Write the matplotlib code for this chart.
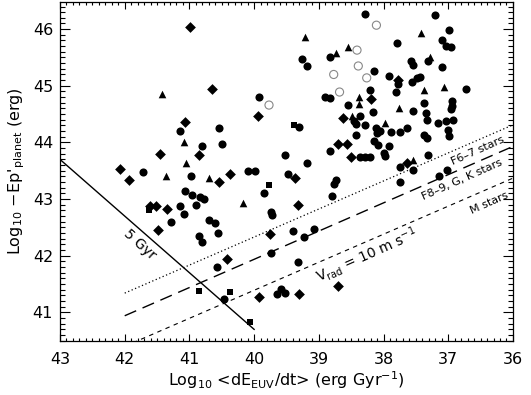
import matplotlib
matplotlib.use("Agg")
import matplotlib.pyplot as plt
from matplotlib.ticker import MultipleLocator

# ---- data (log10 dE_EUV/dt, log10 -Ep'_planet) ----
circ_x = [39.26, 39.18, 39.93, 41.14, 40.54, 39.30, 40.80, 40.50, 39.53, 39.19,
          41.71, 40.97, 40.10, 39.99, 39.47, 41.07, 40.96, 40.83, 40.78, 40.90,
          39.84, 41.15, 41.08, 41.28, 40.69, 40.60, 40.56, 40.85, 40.80, 39.74,
          39.72, 39.40, 39.23, 39.07, 40.57, 39.74, 39.32, 40.46, 39.59, 39.65,
          39.52, 38.29, 37.21, 36.99, 37.79, 37.10, 37.04, 36.96, 38.82, 38.15,
          37.58, 37.54, 37.32, 37.09, 37.91, 37.78, 37.56, 37.48, 37.43, 37.81,
          38.21, 36.72, 38.55, 38.16, 37.55, 37.38, 36.94, 36.94, 36.96, 37.35,
          37.33, 38.46, 38.36, 38.43, 38.29, 37.16, 37.03, 36.92, 38.12, 38.05,
          37.89, 37.74, 37.63, 38.42, 38.15, 38.09, 37.99, 37.97, 37.92, 37.37,
          37.33, 37.01, 36.99, 38.37, 38.29, 38.21, 37.32, 37.74, 37.54, 37.15,
          37.02, 37.74, 38.74, 38.77, 38.79, 38.91, 38.82, 38.10, 38.82]
circ_y = [45.47, 45.35, 44.80, 44.20, 44.26, 44.27, 43.93, 43.97, 43.77, 43.64,
          43.47, 43.41, 43.50, 43.50, 43.44, 43.15, 43.07, 43.04, 43.01, 42.90,
          43.10, 42.88, 42.73, 42.59, 42.63, 42.57, 42.41, 42.34, 42.25, 42.78,
          42.72, 42.44, 42.33, 42.48, 41.80, 42.05, 41.89, 41.24, 41.42, 41.32,
          41.35, 46.26, 46.25, 45.98, 45.75, 45.81, 45.71, 45.69, 45.51, 45.27,
          45.43, 45.36, 45.43, 45.34, 45.17, 45.03, 45.07, 45.13, 45.15, 44.89,
          44.93, 44.95, 44.66, 44.54, 44.56, 44.70, 44.73, 44.65, 44.59, 44.52,
          44.40, 44.37, 44.46, 44.33, 44.30, 44.34, 44.38, 44.40, 44.26, 44.21,
          44.19, 44.19, 44.25, 44.14, 44.03, 43.95, 43.81, 43.76, 43.93, 44.14,
          44.08, 44.22, 44.11, 43.75, 43.75, 43.75, 43.77, 43.57, 43.51, 43.40,
          43.51, 43.31, 43.33, 43.27, 43.05, 44.81, 44.78, 44.16, 43.85]

open_x = [39.77, 38.11, 38.41, 38.77, 38.39, 38.26, 38.68]
open_y = [44.66, 46.07, 45.63, 45.20, 45.35, 45.14, 44.89]

tri_x = [39.22, 41.42, 41.09, 41.06, 41.36, 40.69, 40.17, 37.42, 38.55, 38.74,
         37.28, 37.37, 37.06, 38.38, 38.38, 37.76, 38.48, 37.97, 37.54]
tri_y = [45.86, 44.86, 44.01, 43.64, 43.41, 43.37, 42.93, 45.94, 45.69, 45.58,
         45.50, 44.92, 44.98, 44.80, 44.67, 44.60, 44.47, 44.35, 43.69]

dia_x = [40.99, 40.65, 39.94, 41.07, 41.46, 40.85, 42.08, 40.37, 39.37, 41.94,
         40.55, 41.61, 41.52, 41.35, 41.49, 39.32, 39.75, 40.42, 39.92, 39.30,
         38.71, 37.78, 38.20, 38.63, 38.71, 38.56, 38.50, 37.64]
dia_y = [46.04, 44.95, 44.46, 44.36, 43.80, 43.78, 43.53, 43.44, 43.37, 43.34,
         43.31, 42.88, 42.88, 42.82, 42.45, 42.90, 42.38, 41.94, 41.27, 41.32,
         41.46, 45.10, 44.76, 44.43, 43.97, 43.97, 43.75, 43.63]

sq_x = [39.39, 39.77, 41.62, 40.85, 40.38, 40.07]
sq_y = [44.31, 43.24, 42.80, 41.38, 41.36, 40.83]

# reference lines
gyr5_x = [43.0, 40.0]
gyr5_y = [43.70, 40.70]
vrad_x = [42.0, 36.0]
f67_y = [41.34, 44.31]
fgk_y = [40.94, 43.93]
mst_y = [40.40, 43.37]

plt.rcParams['font.family'] = ['DejaVu Sans']
fig = plt.figure(figsize=(5.31, 3.95), dpi=100)
ax = fig.add_axes([0.113, 0.1375, 0.853, 0.8575])

ax.plot(gyr5_x, gyr5_y, color='black', lw=1.0)
ax.plot(vrad_x, f67_y, color='black', lw=0.9, linestyle=(0, (1, 2)))
ax.plot(vrad_x, fgk_y, color='black', lw=1.0, linestyle=(0, (9, 5)))
ax.plot(vrad_x, mst_y, color='black', lw=0.8, linestyle=(0, (4, 4)))

ax.scatter(circ_x, circ_y, s=34, marker='o', color='black', linewidths=0, zorder=3)
ax.scatter(open_x, open_y, s=34, marker='o', facecolors='none', edgecolors='#888888', linewidths=0.8, zorder=3)
ax.scatter(tri_x, tri_y, s=30, marker='^', color='black', linewidths=0, zorder=3)
ax.scatter(dia_x, dia_y, s=30, marker='D', color='black', linewidths=0, zorder=3)
ax.scatter(sq_x, sq_y, s=22, marker='s', color='black', linewidths=0, zorder=3)

ax.text(41.76, 42.19, '5 Gyr', rotation=-42, ha='center', va='center', fontsize=10)
ax.text(36.54, 43.85, 'F6–7 stars', rotation=24, ha='center', va='center', fontsize=8)
ax.text(36.78, 43.34, 'F8–9, G, K stars', rotation=24, ha='center', va='center', fontsize=8)
ax.text(36.37, 42.93, 'M stars', rotation=24, ha='center', va='center', fontsize=8)
ax.text(38.26, 42.01, r'V$_{\rm rad}$ = 10 m s$^{-1}$', rotation=24, ha='center', va='center', fontsize=10)

ax.set_xlim(43, 36)
ax.set_ylim(40.5, 46.48)
ax.xaxis.set_major_locator(MultipleLocator(1))
ax.xaxis.set_minor_locator(MultipleLocator(0.1))
ax.yaxis.set_major_locator(MultipleLocator(1))
ax.yaxis.set_minor_locator(MultipleLocator(0.1))
ax.tick_params(axis='both', which='both', direction='in', top=True, right=True, labelsize=11.5, width=0.8)
ax.tick_params(axis='x', which='major', length=5, pad=8)
ax.tick_params(axis='x', which='minor', length=2.5)
ax.tick_params(axis='y', which='major', length=7.5, pad=5)
ax.tick_params(axis='y', which='minor', length=3.5)
for sp in ax.spines.values():
    sp.set_linewidth(0.9)

ax.set_xlabel(r'Log$_{10}$ <dE$_{\rm EUV}$/dt> (erg Gyr$^{-1}$)', fontsize=11.5, labelpad=2)
ax.set_ylabel(r"Log$_{10}$ $-$Ep'$_{\rm planet}$ (erg)", fontsize=11.5, labelpad=4)

fig.savefig('out.png', dpi=100)
